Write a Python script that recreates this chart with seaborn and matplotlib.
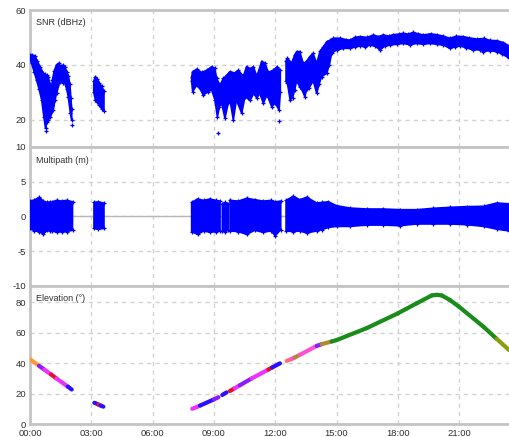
import numpy as np
import pandas as pd
import matplotlib
matplotlib.use("Agg")
import matplotlib.pyplot as plt
import seaborn as sns

# ---------------- data ----------------
# time axis in hours
x_ticks = [0, 3, 6, 9, 12, 15, 18, 21]
x_tick_labels = ["00:00", "03:00", "06:00", "09:00", "12:00", "15:00", "18:00", "21:00"]

# SNR (dBHz): upper / lower edge of the point cloud, per pass
snr_top_t = [0.00, 0.10, 0.25, 0.35, 0.49, 0.65, 0.72, 0.81, 0.90, 0.97, 1.03, 1.10, 1.18, 1.30, 1.40, 1.50, 1.60, 1.71, 1.80, 1.88, 1.95, 2.00, 2.04,
             3.12, 3.20, 3.30, 3.40, 3.50, 3.62,
             7.91, 7.96, 8.16, 8.40, 8.65, 8.89, 9.05, 9.13, 9.30, 9.46, 9.63, 9.79, 10.03, 10.20, 10.44, 10.60, 10.77, 10.93, 11.10, 11.34, 11.50, 11.66, 11.90, 12.10, 12.25,
             12.53, 12.60, 12.80, 12.95, 13.05, 13.20, 13.37, 13.50, 13.70, 13.85, 14.03, 14.19, 14.35, 14.52, 14.70, 14.85, 15.18, 15.45, 15.66, 15.90, 16.15, 16.50, 16.80, 17.05, 17.29, 17.55, 17.78, 18.05, 18.27, 18.50, 18.76, 19.00, 19.25, 19.60, 19.90, 20.20, 20.55, 20.85, 21.20, 21.50, 21.86, 22.20, 22.50, 22.85, 23.17, 23.44]
snr_top = [43.5, 43.6, 43.2, 41.5, 39.3, 37.0, 36.5, 36.3, 35.5, 33.0, 30.5, 34.5, 37.6, 40.0, 40.5, 39.5, 39.8, 39.3, 37.4, 36.0, 33.0, 28.0, 24.0,
           34.0, 35.7, 34.8, 33.2, 32.2, 30.5,
           35.5, 37.5, 38.4, 37.2, 38.0, 39.3, 38.7, 35.0, 32.6, 35.0, 36.2, 37.5, 37.0, 38.0, 35.8, 39.3, 38.5, 39.3, 35.8, 41.2, 40.6, 37.2, 38.0, 39.3, 38.0,
           41.5, 42.4, 40.6, 43.5, 44.8, 44.8, 40.5, 41.0, 43.0, 44.2, 40.5, 44.9, 46.5, 48.4, 49.0, 49.7, 49.7, 49.2, 49.0, 50.0, 50.3, 50.0, 50.9, 50.3, 50.9, 50.5, 51.0, 51.2, 51.5, 51.2, 51.8, 51.3, 50.9, 51.3, 51.0, 50.5, 49.7, 50.4, 50.3, 49.8, 49.4, 49.6, 48.9, 48.8, 48.1, 46.9]
snr_top_pass = [1] * 23 + [2] * 6 + [3] * 25 + [4] * 46

snr_bot_t = [0.00, 0.08, 0.20, 0.32, 0.45, 0.57, 0.68, 0.76, 0.82, 0.89, 1.00, 1.14, 1.22, 1.30, 1.46, 1.60, 1.71, 1.80, 1.87, 1.98, 2.04,
             3.12, 3.20, 3.30, 3.40, 3.50, 3.62,
             7.91, 7.96, 8.16, 8.30, 8.48, 8.73, 8.89, 9.05, 9.17, 9.27, 9.38, 9.54, 9.70, 9.79, 9.95, 10.10, 10.36, 10.52, 10.77, 10.95, 11.10, 11.24, 11.42, 11.60, 11.83, 12.00, 12.19, 12.25,
             12.53, 12.60, 12.73, 12.85, 12.95, 13.05, 13.20, 13.30, 13.45, 13.54, 13.65, 13.86, 14.03, 14.15, 14.27, 14.52, 14.65, 14.76, 15.00, 15.34, 15.66, 15.90, 16.15, 16.40, 16.64, 16.90, 17.13, 17.35, 17.62, 17.95, 18.27, 18.60, 18.92, 19.25, 19.58, 19.90, 20.23, 20.55, 20.80, 21.04, 21.35, 21.69, 22.00, 22.18, 22.50, 22.83, 23.10, 23.44]
snr_bot = [42.0, 40.5, 37.5, 34.5, 31.0, 27.2, 21.0, 16.8, 19.0, 19.8, 21.0, 23.5, 27.0, 29.6, 33.8, 33.5, 33.2, 31.0, 28.4, 22.3, 20.0,
           30.0, 27.2, 26.5, 25.3, 24.0, 23.0,
           34.0, 30.2, 32.6, 31.5, 29.0, 30.2, 30.8, 27.2, 21.0, 24.7, 26.0, 20.5, 26.0, 27.0, 19.9, 27.2, 22.3, 28.4, 27.0, 29.6, 27.8, 29.6, 26.0, 29.0, 24.7, 26.0, 23.5, 30.0,
           34.0, 33.2, 27.2, 28.0, 30.8, 34.2, 31.9, 31.0, 28.4, 31.0, 31.4, 34.2, 29.6, 33.0, 35.7, 36.9, 40.0, 44.2, 45.4, 46.0, 46.0, 46.5, 46.9, 46.5, 47.2, 46.8, 45.4, 46.8, 47.2, 47.5, 47.8, 47.3, 47.8, 47.5, 47.8, 47.5, 47.2, 46.0, 46.5, 46.9, 46.2, 45.4, 45.5, 44.8, 45.2, 44.8, 44.0, 42.4]
snr_bot_pass = [1] * 21 + [2] * 6 + [3] * 28 + [4] * 48

snr_out_t = [0.76, 2.04, 9.20, 12.20]
snr_out = [16.0, 18.0, 15.2, 19.6]

# Multipath (m): upper / lower edge per pass
mp_t = [0.00, 0.20, 0.46, 0.65, 0.85, 1.00, 1.04,
        1.09, 1.30, 1.55, 1.80, 2.08,
        3.13, 3.35, 3.62,
        7.91, 8.20, 8.50, 8.80, 9.10, 9.30,
        9.41, 9.55, 9.70,
        9.79, 10.20, 10.60, 11.00, 11.40, 11.80, 12.00, 12.27,
        12.53, 12.89, 13.20, 13.54, 14.03, 14.30, 14.60, 15.00, 15.65, 16.47, 17.29, 18.10, 18.92, 19.74, 20.55, 21.37, 22.20, 22.85, 23.44]
mp_top = [2.2, 2.35, 2.75, 2.2, 2.0, 2.1, 1.5,
          2.1, 2.3, 2.2, 2.3, 2.1,
          2.0, 2.1, 1.9,
          2.0, 2.5, 2.3, 2.5, 2.3, 2.2,
          1.8, 2.0, 1.8,
          2.3, 2.2, 2.6, 2.4, 2.2, 2.3, 2.1, 2.2,
          2.3, 2.9, 2.4, 2.75, 1.93, 2.0, 2.1, 1.54, 1.2, 1.06, 1.06, 0.96, 0.96, 1.16, 1.3, 1.4, 1.45, 1.93, 1.8]
mp_bot = [-1.75, -2.07, -2.2, -2.56, -2.0, -2.1, -1.8,
          -2.1, -2.3, -2.2, -2.2, -2.0,
          -1.75, -1.85, -1.75,
          -2.2, -2.6, -2.1, -2.3, -2.2, -2.1,
          -2.1, -2.2, -2.0,
          -2.1, -2.2, -2.6, -2.0, -2.3, -2.1, -2.8, -1.9,
          -2.1, -2.2, -2.1, -2.4, -2.1, -1.9, -1.6, -1.45, -1.45, -1.26, -1.26, -1.35, -1.1, -1.1, -1.1, -1.2, -1.45, -1.85, -2.1]
mp_pass = [1] * 7 + [2] * 5 + [3] * 3 + [4] * 6 + [5] * 3 + [6] * 8 + [7] * 19

# Elevation (deg) with the colour of the piece that starts at each point
elev_t = [0.00, 0.44, 0.70, 1.03, 1.30, 1.85, 2.04,
          3.15, 3.35, 3.45, 3.59,
          7.94, 8.32, 9.00, 9.22,
          9.41, 9.62,
          9.78, 10.03, 10.27, 10.85, 11.66, 11.85, 12.23,
          12.56, 12.80, 12.96, 13.20, 14.03, 14.27, 14.76, 15.00, 16.48, 18.00, 18.92, 19.66, 19.90, 20.15, 20.56, 21.00, 22.19, 22.84, 23.44]
elev_deg = [42.6, 38.3, 35.8, 32.6, 29.9, 24.6, 22.7,
            14.0, 12.8, 12.2, 11.4,
            10.0, 12.1, 16.2, 17.6,
            19.1, 20.8,
            21.7, 23.6, 25.5, 30.0, 35.8, 37.2, 39.9,
            41.5, 42.8, 43.8, 45.5, 51.4, 52.5, 54.3, 55.2, 63.1, 72.8, 79.4, 84.6, 85.0, 84.6, 81.5, 77.1, 64.0, 56.0, 48.7]
elev_pass = [1] * 7 + [2] * 4 + [3] * 4 + [4] * 2 + [5] * 7 + [6] * 19
elev_color = ["orange", "purple", "magenta", "red", "magenta", "blue", None,
              "blue", "red", "blue", None,
              "magenta", "blue", "purple", None,
              "blue", None,
              "red", "magenta", "purple", "magenta", "red", "blue", None,
              "salmon", "pink", "olive", "pink", "purple", "olive", "green", "green", "green", "green", "green",
              "green", "green", "green", "green", "green", "green", "yellowgreen", None]

# ---------------- styling ----------------
sns.set_style("white")
plt.rcParams["font.family"] = ["Liberation Sans", "DejaVu Sans"]
plt.rcParams["axes.unicode_minus"] = False

BLUE = "#0000ff"
GRID = "#d2d2d2"
SPINE = "#c4c4c4"
TXT = "#303030"
PALETTE = {"orange": "#ff9a3c", "purple": "#8a1cff", "blue": "#2a10ff",
           "magenta": "#f030ff", "red": "#e81030", "pink": "#ff50d0",
           "salmon": "#ff7070", "olive": "#b08a30", "green": "#1a8c1a",
           "yellowgreen": "#8c9c10"}

W, H = 509, 437
fig = plt.figure(figsize=(W / 100, H / 100), dpi=100)
left = 30 / W
width = 1.0 - left
def px_axes(top_px, bot_px):
    return fig.add_axes([left, (H - bot_px) / H, width, (bot_px - top_px) / H])

ax_snr = px_axes(10, 147)
ax_mp = px_axes(147, 285.7)
ax_el = px_axes(285.7, 424)

XMAX = 23.44
for ax in (ax_snr, ax_mp, ax_el):
    ax.set_xlim(0, XMAX)
    ax.set_xticks(x_ticks)
    ax.grid(True, color=GRID, linestyle=(0, (3, 3)), linewidth=1.0)
    ax.set_axisbelow(True)
    ax.spines["right"].set_visible(False)
    for s in ("left", "top", "bottom"):
        ax.spines[s].set_color(SPINE)
        ax.spines[s].set_linewidth(2.0)
    ax.tick_params(length=0, labelsize=6.8, colors=TXT, pad=3)

ax_snr.set_ylim(10, 60)
ax_snr.set_yticks([20, 40, 60])
ax_mp.set_ylim(-10, 10)
ax_mp.set_yticks([-10, -5, 0, 5, 10])
ax_el.set_ylim(0, 91)
ax_el.set_yticks([0, 20, 40, 60, 80])

ax_snr.set_xticklabels([])
ax_mp.set_xticklabels([])
ax_el.set_xticklabels(x_tick_labels)
ax_el.tick_params(axis="x", pad=3.5)

# ---------------- bands ----------------
def draw_band(ax, tt, tv, tp, bt, bv, bp):
    top = pd.DataFrame({"t": tt, "v": tv, "p": tp})
    bot = pd.DataFrame({"t": bt, "v": bv, "p": bp})
    for p in top["p"].unique():
        a = top[top["p"] == p]
        b = bot[bot["p"] == p].iloc[::-1]
        ax.fill(np.r_[a["t"].values, b["t"].values], np.r_[a["v"].values, b["v"].values],
                facecolor=BLUE, edgecolor=BLUE, linewidth=1.2, zorder=3)
    edges = pd.concat([top, bot], ignore_index=True)
    sns.scatterplot(data=edges, x="t", y="v", marker="+", color=BLUE, s=12,
                    linewidth=0.9, ax=ax, zorder=4, legend=False)

draw_band(ax_snr, snr_top_t, snr_top, snr_top_pass, snr_bot_t, snr_bot, snr_bot_pass)
sns.scatterplot(x=snr_out_t, y=snr_out, marker="+", color=BLUE, s=12, linewidth=0.9,
                ax=ax_snr, zorder=4, legend=False)

ax_mp.axhline(0, color="#b8b8b8", linewidth=1.0, zorder=2)
draw_band(ax_mp, mp_t, mp_top, mp_pass, mp_t, mp_bot, mp_pass)

# ---------------- elevation ----------------
rows = []
seg = 0
for i in range(len(elev_t) - 1):
    if elev_color[i] is None or elev_pass[i] != elev_pass[i + 1]:
        continue
    rows.append((elev_t[i], elev_deg[i], seg, elev_color[i]))
    rows.append((elev_t[i + 1], elev_deg[i + 1], seg, elev_color[i]))
    seg += 1
el_df = pd.DataFrame(rows, columns=["t", "e", "seg", "c"])
seg_pal = {s: PALETTE[c] for s, c in el_df.groupby("seg")["c"].first().items()}
sns.lineplot(data=el_df, x="t", y="e", hue="seg", palette=seg_pal, estimator=None,
             sort=False, linewidth=3.0, legend=False, ax=ax_el, zorder=3,
             solid_capstyle="round")

for ax in (ax_snr, ax_mp, ax_el):
    ax.set_xlabel("")
    ax.set_ylabel("")
    ax.set_xlim(0, XMAX)

# panel titles
ax_snr.text(0.0125, 0.908, "SNR (dBHz)", transform=ax_snr.transAxes, fontsize=6.5, color=TXT, va="center")
ax_mp.text(0.0125, 0.906, "Multipath (m)", transform=ax_mp.transAxes, fontsize=6.5, color=TXT, va="center")
ax_el.text(0.0125, 0.911, "Elevation (°)", transform=ax_el.transAxes, fontsize=6.5, color=TXT, va="center")

fig.savefig("out.png", dpi=100)
